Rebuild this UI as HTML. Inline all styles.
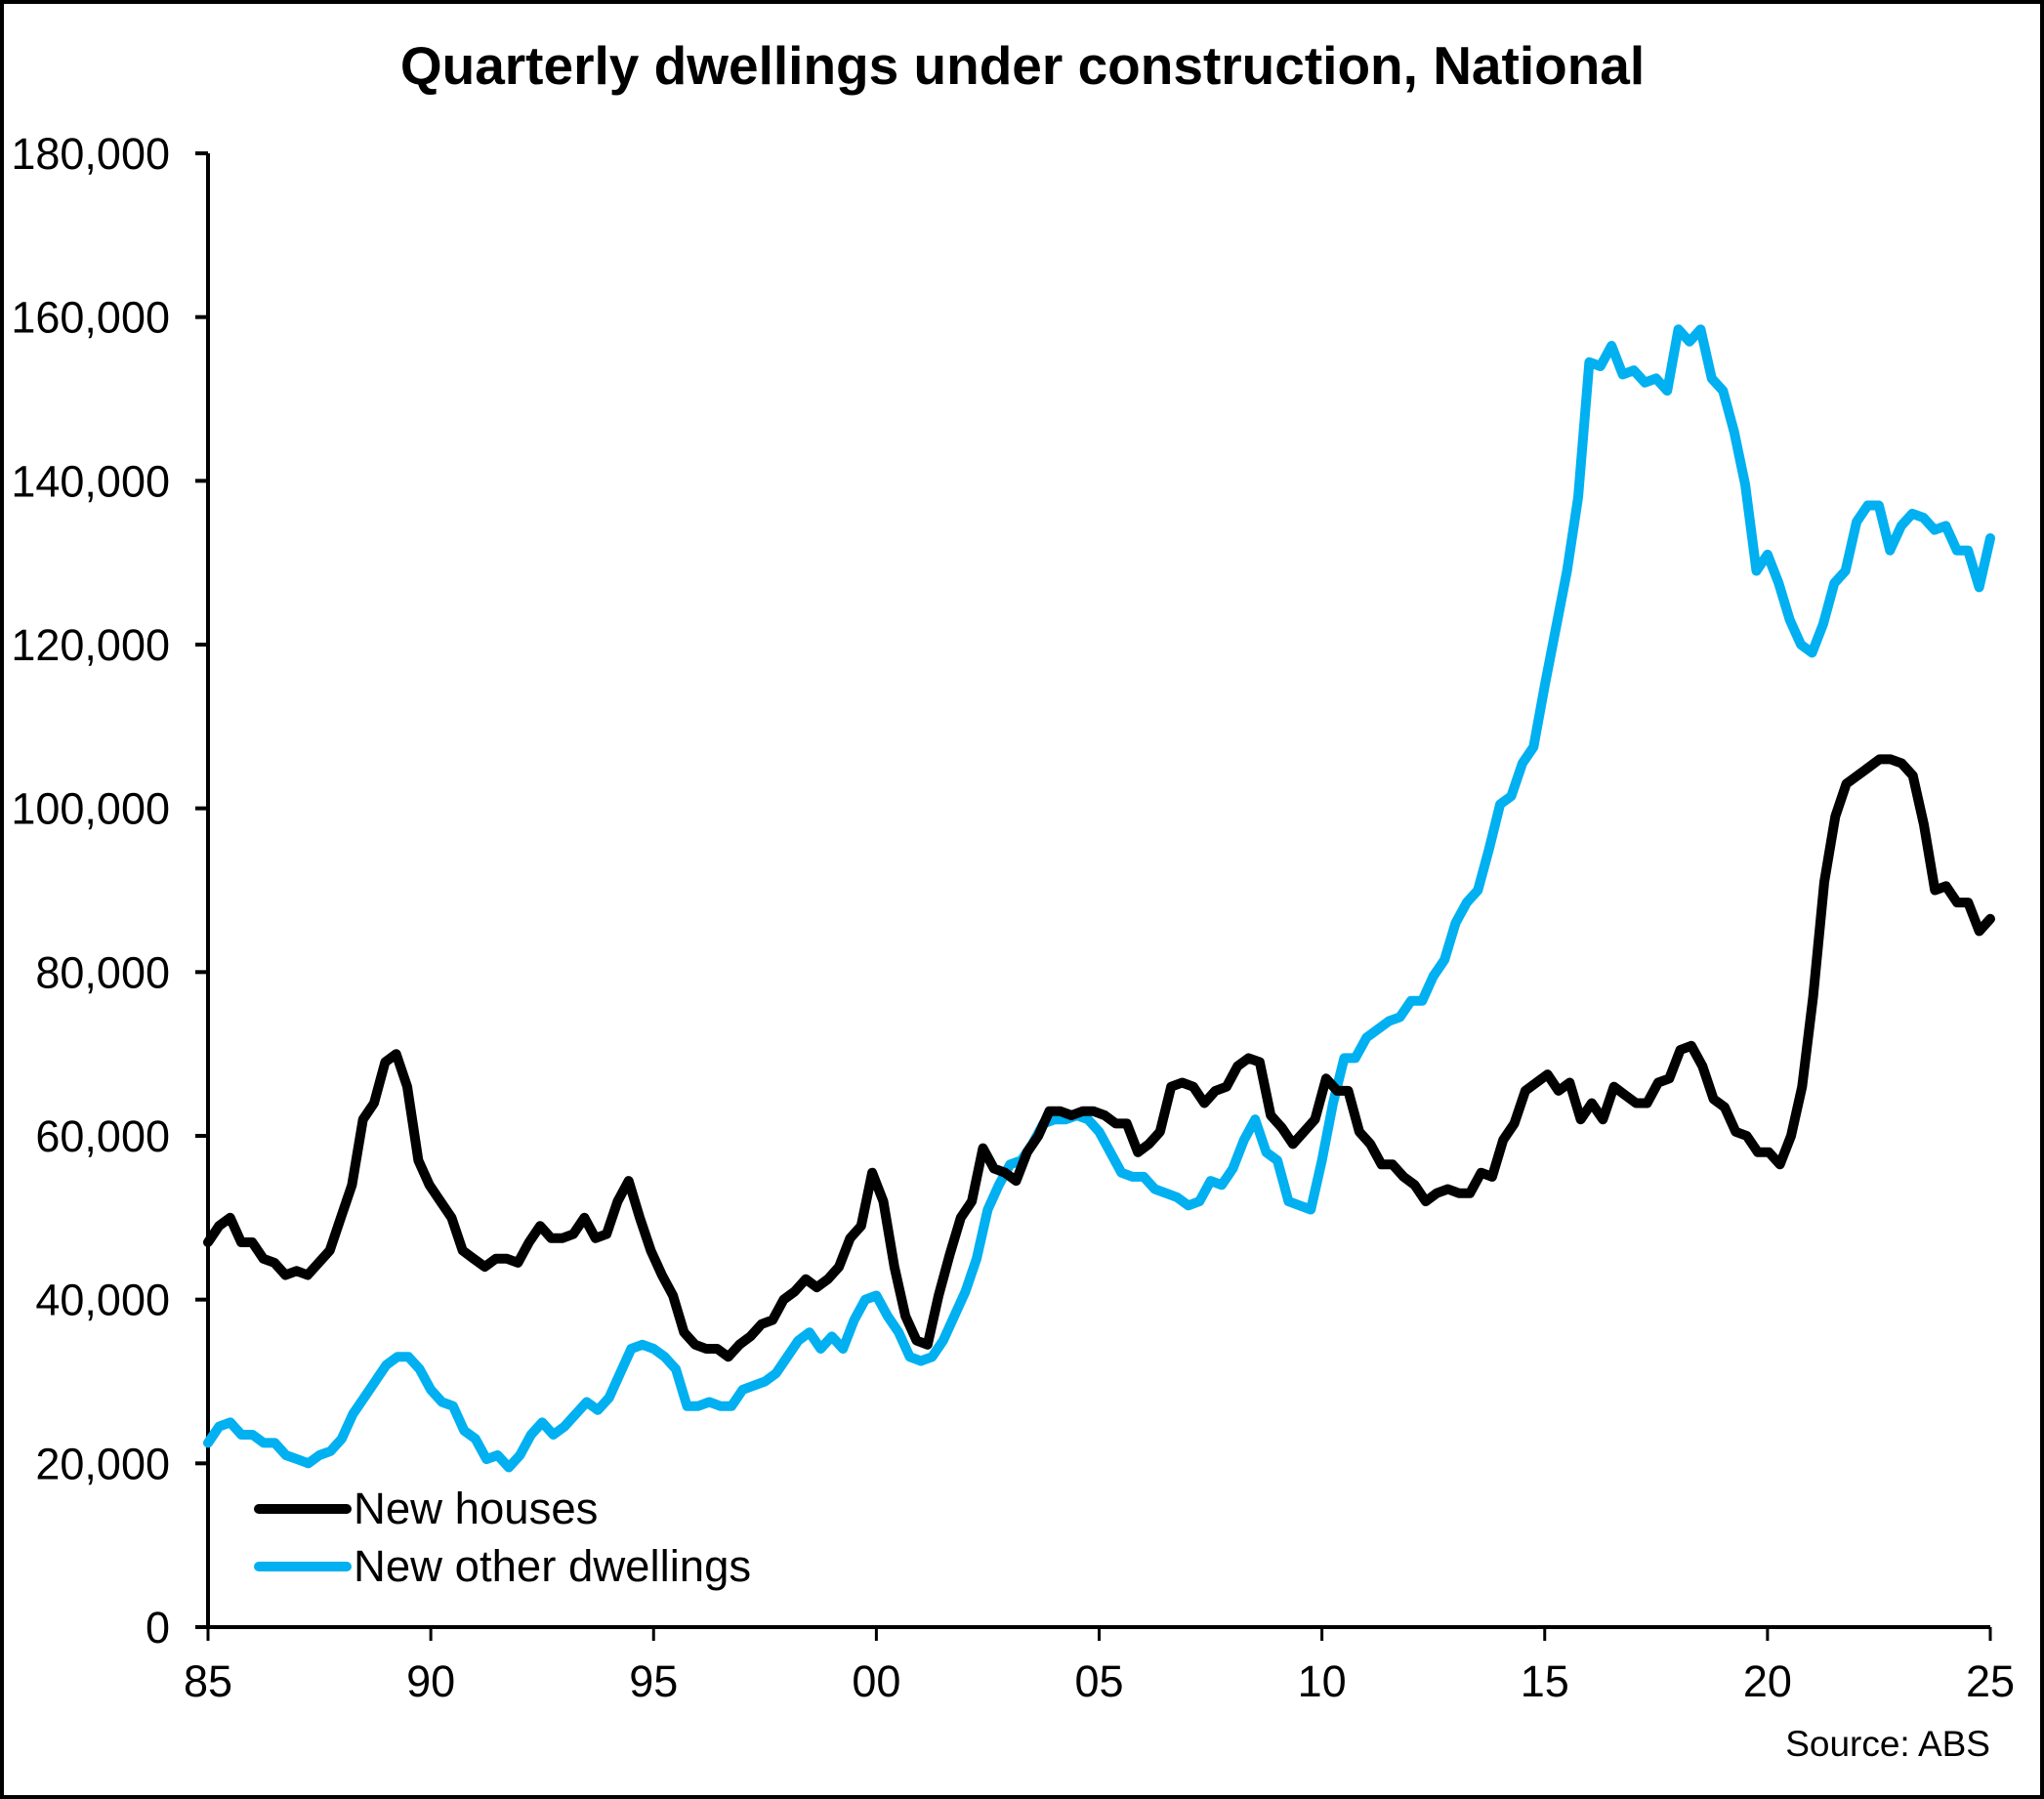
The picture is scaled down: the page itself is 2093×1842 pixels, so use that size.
<!DOCTYPE html>
<html><head><meta charset="utf-8"><style>
html,body{margin:0;padding:0;background:#fff;}
svg{display:block;font-family:"Liberation Sans",Arial,sans-serif;}
</style></head><body>
<svg id="chart" width="2093" height="1842" viewBox="0 0 2093 1842">
<rect x="2" y="2" width="2089" height="1838" fill="#fff" stroke="#000" stroke-width="4"/>
<text x="1047" y="86" text-anchor="middle" font-size="55" font-weight="bold">Quarterly dwellings under construction, National</text>
<g id="axes"></g>
<g id="series"></g>
<g>
<line x1="265" y1="1545" x2="355" y2="1545" stroke="#000" stroke-width="10" stroke-linecap="round"/>
<text x="362" y="1560" font-size="45.5">New houses</text>
<line x1="265" y1="1604" x2="355" y2="1604" stroke="#00B0F0" stroke-width="10" stroke-linecap="round"/>
<text x="362" y="1619" font-size="45.5">New other dwellings</text>
</g>
<text x="2038" y="1798" text-anchor="end" font-size="37">Source: ABS</text>
</svg>
<script>
const yTicks = [0,20000,40000,60000,80000,100000,120000,140000,160000,180000];
const yTickLabels = ["0","20,000","40,000","60,000","80,000","100,000","120,000","140,000","160,000","180,000"];
const xTicks = [1985,1990,1995,2000,2005,2010,2015,2020,2025];
const xTickLabels = ["85","90","95","00","05","10","15","20","25"];
const houses = [47,49,50,47, 47,45,44.5,43, 43.5,43,44.5,46, 50,54,62,64, 69,70,66,57, 54,52,50,46, 45,44,45,45, 44.5,47,49,47.5, 47.5,48,50,47.5, 48,52,54.5,50, 46,43,40.5,36, 34.5,34,34,33, 34.5,35.5,37,37.5, 40,41,42.5,41.5, 42.5,44,47.5,49, 55.5,52,44,38, 35,34.5,40.5,45.5, 50,52,58.5,56, 55.5,54.5,58,60, 63,63,62.5,63, 63,62.5,61.5,61.5, 58,59,60.5,66, 66.5,66,64,65.5, 66,68.5,69.5,69, 62.5,61,59,60.5, 62,67,65.5,65.5, 60.5,59,56.5,56.5, 55,54,52,53, 53.5,53,53,55.5, 55,59.5,61.5,65.5, 66.5,67.5,65.5,66.5, 62,64,62,66, 65,64,64,66.5, 67,70.5,71,68.5, 64.5,63.5,60.5,60, 58,58,56.5,60, 66,77,91,99, 103,104,105,106, 106,105.5,104, 98,90,90.5,88.5, 88.5,85,86.5];
const other = [22.5,24.5,25,23.5, 23.5,22.5,22.5,21, 20.5,20,21,21.5, 23,26,28,30, 32,33,33,31.5, 29,27.5,27,24, 23,20.5,21,19.5, 21,23.5,25,23.5, 24.5,26,27.5,26.5, 28,31,34,34.5, 34,33,31.5,27, 27,27.5,27,27, 29,29.5,30,31, 33,35,36,34, 35.5,34,37.5,40, 40.5,38,36,33, 32.5,33,35,38, 41,45,51,54, 56.5,57,59,61.5, 62,62,62.5,62, 60.5,58,55.5,55, 55,53.5,53,52.5, 51.5,52,54.5,54, 56,59.5,62,58, 57,52,51.5,51, 57,64,69.5,69.5, 72,73,74,74.5, 76.5,76.5,79.5,81.5, 86,88.5,90,95, 100.5,101.5,105.5,107.5, 115,122,129,138, 154.5,154,156.5,153, 153.5,152,152.5,151, 158.5,157,158.5,152.5, 151,146,139.5,129, 131,127.5,123,120, 119,122.5,127.5,129, 135,137,137,131.5, 134.5,136,135.5,134, 134.5,131.5,131.5,127, 133];
const startYear = 1985, endYear = 2025;
const X0 = 213, X1 = 2038, Y0 = 1666, Y1 = 157;
const NS = "http://www.w3.org/2000/svg";
function xScale(yr){ return X0 + (yr - startYear) / (endYear - startYear) * (X1 - X0); }
function yScale(v){ return Y0 - v / 180000 * (Y0 - Y1); }
const axes = document.getElementById('axes');
const series = document.getElementById('series');
function mk(tag, attrs){ const e = document.createElementNS(NS, tag); for (const k in attrs) e.setAttribute(k, attrs[k]); return e; }
const yAxis = mk('line', {x1:X0, y1:Y1, x2:X0, y2:Y0, stroke:'#000', 'stroke-width':4});


axes.appendChild(yAxis);
const xAxis = mk('line', {x1:X0, y1:Y0, x2:X1, y2:Y0, stroke:'#000', 'stroke-width':4});


axes.appendChild(xAxis);
yTicks.forEach((v, i) => {
  const y = yScale(v);
  const t = mk('line', {x1:X0 - 13, y1:y, x2:X0, y2:y, stroke:'#000', 'stroke-width':4});
  
  
  axes.appendChild(t);
  const l = mk('text', {x:174, y:y + 16, 'text-anchor':'end', 'font-size':45});
  l.textContent = yTickLabels[i];
  
  
  axes.appendChild(l);
});
xTicks.forEach((yr, i) => {
  const x = xScale(yr);
  const t = mk('line', {x1:x, y1:Y0, x2:x, y2:Y0 + 14, stroke:'#000', 'stroke-width':3});
  
  
  axes.appendChild(t);
  const l = mk('text', {x:x, y:1737, 'text-anchor':'middle', 'font-size':45});
  l.textContent = xTickLabels[i];
  
  
  axes.appendChild(l);
});
function drawLine(vals, color, name){
  const n = vals.length;
  const pts = vals.map((v, i) => xScale(startYear + i * (endYear - startYear) / (n - 1)).toFixed(1) + ',' + yScale(v * 1000).toFixed(1)).join(' ');
  const p = mk('polyline', {points:pts, fill:'none', stroke:color, 'stroke-width':10, 'stroke-linejoin':'round', 'stroke-linecap':'round'});
  
  
  series.appendChild(p);
}
drawLine(other, '#00B0F0', 'line-new-other-dwellings');
drawLine(houses, '#000000', 'line-new-houses');
</script>
</body></html>
